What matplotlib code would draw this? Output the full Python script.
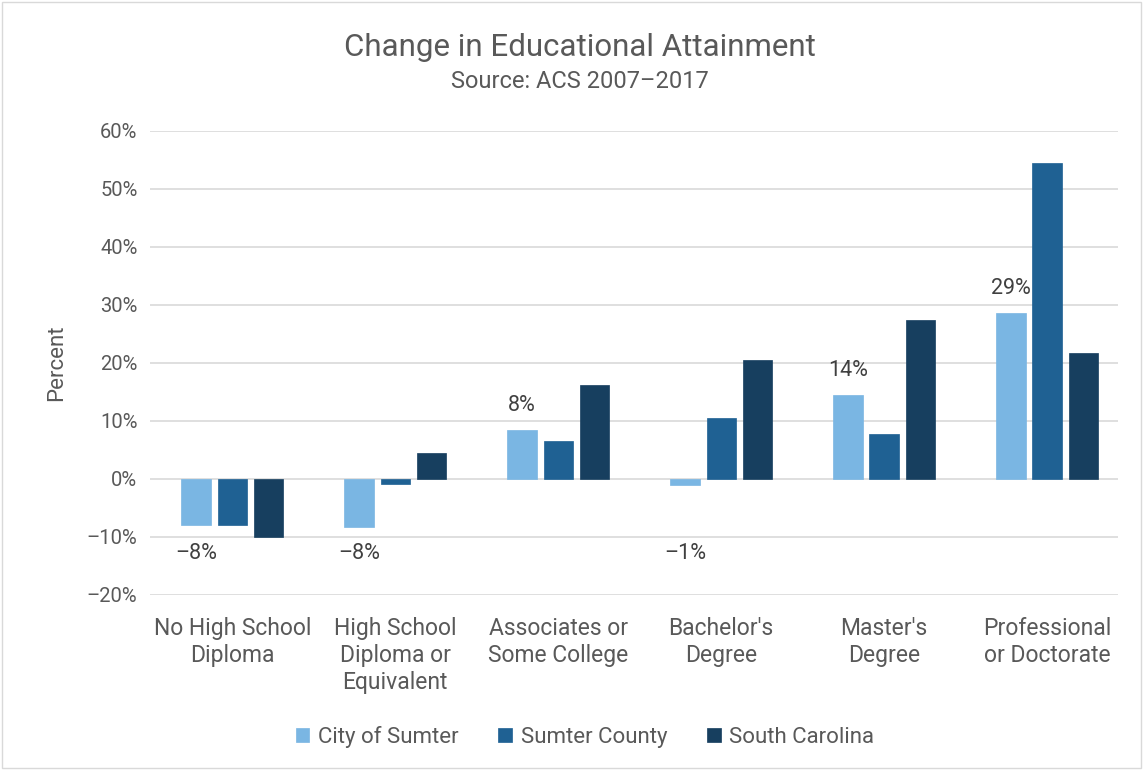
import numpy as np
import matplotlib.pyplot as plt
from matplotlib.patches import Rectangle
from matplotlib.ticker import FuncFormatter

plt.rcParams['font.family'] = ['Roboto', 'DejaVu Sans']

# Данные
categories = ["No High School\nDiploma", "High School\nDiploma or\nEquivalent",
              "Associates or\nSome College", "Bachelor's\nDegree",
              "Master's\nDegree", "Professional\nor Doctorate"]
city = [-8.0, -8.2, 8.4, -1.0, 14.4, 28.6]
county = [-7.9, -0.9, 6.5, 10.5, 7.7, 54.5]
state = [-10.0, 4.5, 16.2, 20.5, 27.5, 21.7]
city_labels = ["\u20138%", "\u20138%", "8%", "\u20131%", "14%", "29%"]

series_names = ["City of Sumter", "Sumter County", "South Carolina"]
colors = ["#7AB6E3", "#1F6193", "#173F5F"]
text_col = "#595959"

fig = plt.figure(figsize=(11.47, 7.7), dpi=100)
ax = fig.add_axes([150 / 1147, 1 - 595 / 770, 968 / 1147, 464 / 770])

x = np.arange(len(categories))
w = 0.18
step = 0.222
for i, (vals, name) in enumerate(zip([city, county, state], series_names)):
    ax.bar(x + (i - 1) * step, vals, width=w, color=colors[i], label=name, zorder=3,
           edgecolor=colors[i], linewidth=0.5)

# Подписи только для City of Sumter
for xi, v, lab in zip(x, city, city_labels):
    if v < 0:
        ax.text(xi - step, -12.8, lab, ha='center', va='center', fontsize=15.5, color="#404040")
    else:
        ax.annotate(lab, (xi - step, v), xytext=(0, 18), textcoords='offset points',
                    ha='center', va='center', fontsize=15.5, color="#404040")

ax.set_ylim(-20, 60)
ax.set_xlim(-0.505, len(categories) - 0.565)
ax.set_yticks(np.arange(-20, 61, 10))
ax.yaxis.set_major_formatter(FuncFormatter(lambda v, p: f"{int(v)}%".replace("-", "\u2013")))
ax.grid(axis='y', color="#D9D9D9", linewidth=1.2, zorder=0)
ax.set_xticks(x)
ax.set_xticklabels(categories, fontsize=16.5, color=text_col, linespacing=1.22, va='top')
ax.tick_params(axis='both', length=0, labelcolor=text_col)
ax.tick_params(axis='y', labelsize=14.5, pad=9)
ax.tick_params(axis='x', pad=16)
for s in ax.spines.values():
    s.set_visible(False)

ax.set_ylabel("Percent", fontsize=16, color=text_col, labelpad=14)

fig.text(580 / 1147, 1 - 47 / 770, "Change in Educational Attainment", ha='center', va='center',
         fontsize=22.5, color=text_col)
fig.text(580 / 1147, 1 - 81 / 770, "Source: ACS 2007\u20132017", ha='center', va='center',
         fontsize=17, color=text_col)

fig.legend(loc='center', bbox_to_anchor=(585 / 1147, 1 - 737 / 770), ncol=3, frameon=False,
           fontsize=16, labelcolor=text_col, handlelength=0.6, handleheight=0.6,
           handletextpad=0.4, columnspacing=1.8)

fig.patches.append(Rectangle((0.002, 0.003), 0.993, 0.994, transform=fig.transFigure,
                             fill=False, edgecolor="#D9D9D9", linewidth=1))

fig.savefig("out.png", dpi=100)
